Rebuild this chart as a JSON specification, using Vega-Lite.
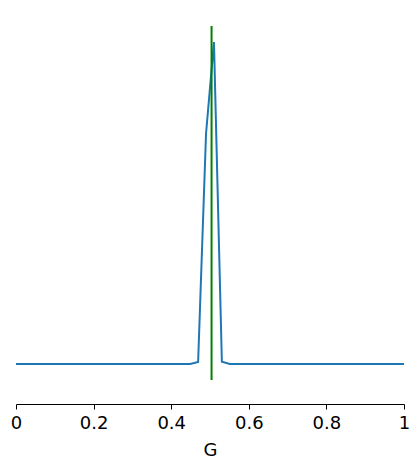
{
  "$schema": "https://vega.github.io/schema/vega-lite/v6.json",
  "autosize": "none",
  "width": 388,
  "height": 354,
  "padding": {"left": 16, "top": 26, "right": 15, "bottom": 87},
  "datasets": {
    "curve": [
      {"G": 0, "density": 0}, {"G": 0.0204, "density": 0}, {"G": 0.0408, "density": 0},
      {"G": 0.0612, "density": 0}, {"G": 0.0816, "density": 0}, {"G": 0.102, "density": 0},
      {"G": 0.1224, "density": 0}, {"G": 0.1429, "density": 0}, {"G": 0.1633, "density": 0},
      {"G": 0.1837, "density": 0}, {"G": 0.2041, "density": 0}, {"G": 0.2245, "density": 0},
      {"G": 0.2449, "density": 0}, {"G": 0.2653, "density": 0}, {"G": 0.2857, "density": 0},
      {"G": 0.3061, "density": 0}, {"G": 0.3265, "density": 0}, {"G": 0.3469, "density": 0},
      {"G": 0.3673, "density": 0}, {"G": 0.3878, "density": 0}, {"G": 0.4082, "density": 0},
      {"G": 0.4286, "density": 0}, {"G": 0.449, "density": 0}, {"G": 0.4694, "density": 0.006},
      {"G": 0.4898, "density": 0.716}, {"G": 0.5102, "density": 1.0}, {"G": 0.5306, "density": 0.007},
      {"G": 0.551, "density": 0}, {"G": 0.5714, "density": 0}, {"G": 0.5918, "density": 0},
      {"G": 0.6122, "density": 0}, {"G": 0.6327, "density": 0}, {"G": 0.6531, "density": 0},
      {"G": 0.6735, "density": 0}, {"G": 0.6939, "density": 0}, {"G": 0.7143, "density": 0},
      {"G": 0.7347, "density": 0}, {"G": 0.7551, "density": 0}, {"G": 0.7755, "density": 0},
      {"G": 0.7959, "density": 0}, {"G": 0.8163, "density": 0}, {"G": 0.8367, "density": 0},
      {"G": 0.8571, "density": 0}, {"G": 0.8776, "density": 0}, {"G": 0.898, "density": 0},
      {"G": 0.9184, "density": 0}, {"G": 0.9388, "density": 0}, {"G": 0.9592, "density": 0},
      {"G": 0.9796, "density": 0}, {"G": 1, "density": 0}
    ],
    "marker": [{"G": 0.504}]
  },
  "layer": [
    {
      "data": {"name": "curve"},
      "mark": {"type": "line", "color": "#1f77b4", "strokeWidth": 2},
      "encoding": {
        "x": {
          "field": "G", "type": "quantitative", "title": "G",
          "scale": {"domain": [0, 1], "nice": false, "zero": false},
          "axis": {"values": [0, 0.2, 0.4, 0.6, 0.8, 1], "format": "~g"}
        },
        "y": {
          "field": "density", "type": "quantitative",
          "scale": {"domain": [-0.05, 1.05], "nice": false, "zero": false},
          "axis": null
        }
      }
    },
    {
      "data": {"name": "marker"},
      "mark": {"type": "rule", "color": "green", "strokeWidth": 2},
      "encoding": {
        "x": {"field": "G", "type": "quantitative"}
      }
    }
  ],
  "config": {
    "view": {"stroke": null},
    "axis": {
      "grid": false,
      "offset": 24,
      "domainColor": "black",
      "domainWidth": 1,
      "tickColor": "black",
      "tickWidth": 1,
      "tickSize": 5,
      "labelFlush": false,
      "labelColor": "black",
      "labelFont": "DejaVu Sans",
      "labelFontSize": 18,
      "labelPadding": 5,
      "titleColor": "black",
      "titleFont": "DejaVu Sans",
      "titleFontSize": 18,
      "titleFontWeight": "normal",
      "titlePadding": 9
    }
  }
}
